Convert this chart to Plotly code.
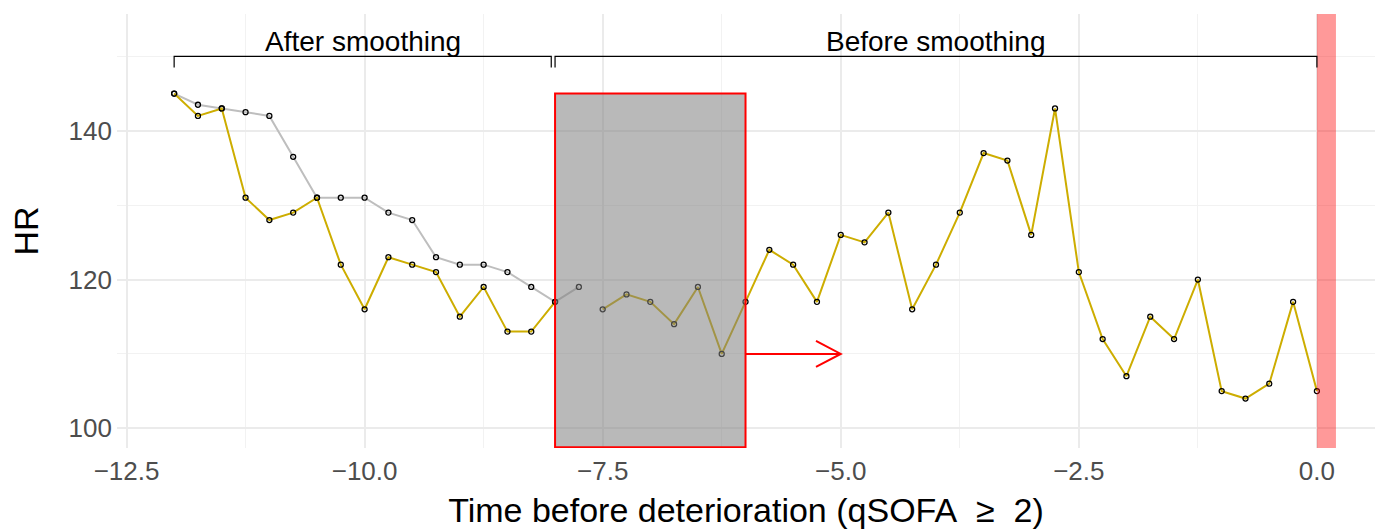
import plotly.graph_objects as go

# ---------------- data ----------------
time_raw = [-12.0, -11.75, -11.5, -11.25, -11.0, -10.75, -10.5, -10.25, -10.0, -9.75,
            -9.5, -9.25, -9.0, -8.75, -8.5, -8.25, -8.0, -7.75, -7.5, -7.25,
            -7.0, -6.75, -6.5, -6.25, -6.0, -5.75, -5.5, -5.25, -5.0, -4.75,
            -4.5, -4.25, -4.0, -3.75, -3.5, -3.25, -3.0, -2.75, -2.5, -2.25,
            -2.0, -1.75, -1.5, -1.25, -1.0, -0.75, -0.5, -0.25, 0.0]
hr_raw = [145, 142, 143, 131, 128, 129, 131, 122, 116, 123,
          122, 121, 115, 119, 113, 113, 117, None, 116, 118,
          117, 114, 119, 110, 117, 124, 122, 117, 126, 125,
          129, 116, 122, 129, 137, 136, 126, 143, 121, 112,
          107, 115, 112, 120, 105, 104, 106, 117, 105]

time_smooth = [-12.0, -11.75, -11.5, -11.25, -11.0, -10.75, -10.5, -10.25, -10.0,
               -9.75, -9.5, -9.25, -9.0, -8.75, -8.5, -8.25, -8.0, -7.75]
hr_smooth = [145, 143.5, 143, 142.5, 142, 136.5, 131, 131, 131,
             129, 128, 123, 122, 122, 121, 119, 117, 119]

x_ticks = [-12.5, -10.0, -7.5, -5.0, -2.5, 0.0]
x_ticklabels = ["\u221212.5", "\u221210.0", "\u22127.5", "\u22125.0", "\u22122.5", "0.0"]
x_minor = [-11.25, -8.75, -6.25, -3.75, -1.25]
y_ticks = [100, 120, 140]
y_minor = [110, 130, 150]

# annotation specs
window = (-8.0, -6.0, 145)          # x0, x1, top of highlighted window
arrow = (-6.0, -5.0, 110)           # x start, x end, y
event_band = (0.0, 0.2)
bracket_after = (-12.0, -8.04)
bracket_before = (-8.0, 0.0)
bracket_y, bracket_tick = 150, 148.5
label_y = 152.0

X_RANGE = [-12.6, 0.61]
Y_RANGE = [97.35, 155.7]

FONT = "Liberation Sans, Arial, sans-serif"
GOLD = "#CDAD00"
GREY_LINE = "#BEBEBE"

fig = go.Figure()

fig.add_trace(go.Scatter(
    x=time_smooth, y=hr_smooth, mode="lines+markers",
    line=dict(color=GREY_LINE, width=2),
    marker=dict(symbol="circle-open", color="black", size=5, line=dict(width=1.3)),
    showlegend=False, hoverinfo="skip"))

fig.add_trace(go.Scatter(
    x=time_raw, y=hr_raw, mode="lines+markers", connectgaps=False,
    line=dict(color=GOLD, width=2),
    marker=dict(symbol="circle-open", color="black", size=5, line=dict(width=1.3)),
    showlegend=False, hoverinfo="skip"))

shapes = []
# highlighted window
shapes.append(dict(type="rect", xref="x", x0=window[0], x1=window[1],
                   yref="y", y0=Y_RANGE[0] + 0.1, y1=window[2],
                   fillcolor="rgba(127,127,127,0.55)",
                   line=dict(color="red", width=2), layer="above"))
# event band
shapes.append(dict(type="rect", xref="x", x0=event_band[0], x1=event_band[1],
                   yref="y domain", y0=0, y1=1,
                   fillcolor="rgba(255,0,0,0.4)", line=dict(width=0), layer="above"))
# brackets
for (bx0, bx1) in (bracket_after, bracket_before):
    shapes.append(dict(type="path", xref="x", yref="y",
                       path=f"M {bx0},{bracket_tick} L {bx0},{bracket_y} L {bx1},{bracket_y} L {bx1},{bracket_tick}",
                       line=dict(color="black", width=1.2), layer="above"))
# arrow shaft + open head
ax0, ax1, ay = arrow
head_dx = 0.26
head_dy = 1.75
shapes.append(dict(type="line", xref="x", yref="y", x0=ax0, x1=ax1, y0=ay, y1=ay,
                   line=dict(color="red", width=2), layer="above"))
shapes.append(dict(type="path", xref="x", yref="y",
                   path=f"M {ax1-head_dx},{ay+head_dy} L {ax1},{ay} L {ax1-head_dx},{ay-head_dy}",
                   line=dict(color="red", width=2), layer="above"))

annotations = [
    dict(x=(bracket_after[0] + bracket_after[1]) / 2, y=label_y, xref="x", yref="y",
         text="After smoothing", showarrow=False, font=dict(family=FONT, size=28, color="black")),
    dict(x=(bracket_before[0] + bracket_before[1]) / 2, y=label_y, xref="x", yref="y",
         text="Before smoothing", showarrow=False, font=dict(family=FONT, size=28, color="black")),
]

fig.update_layout(
    width=1379, height=532,
    margin=dict(l=117, r=4, t=14, b=84),
    paper_bgcolor="white", plot_bgcolor="white",
    font=dict(family=FONT),
    shapes=shapes, annotations=annotations,
    xaxis=dict(range=X_RANGE, tickvals=x_ticks, ticktext=x_ticklabels,
               showgrid=True, gridcolor="#EBEBEB", gridwidth=2, zeroline=False,
               showline=False, ticks="", ticklabelstandoff=5,
               tickfont=dict(family=FONT, size=26, color="#4D4D4D"),
               minor=dict(tickvals=x_minor, showgrid=True, gridcolor="#F2F2F2", gridwidth=1),
               title=dict(text="Time before deterioration (qSOFA\u00a0 \u2265\u00a0 2)",
                          font=dict(family=FONT, size=34, color="black"), standoff=13)),
    yaxis=dict(range=Y_RANGE, tickvals=y_ticks,
               showgrid=True, gridcolor="#EBEBEB", gridwidth=2, zeroline=False,
               showline=False, ticks="", ticklabelstandoff=4,
               tickfont=dict(family=FONT, size=26, color="#4D4D4D"),
               minor=dict(tickvals=y_minor, showgrid=True, gridcolor="#F2F2F2", gridwidth=1),
               title=dict(text="HR", font=dict(family=FONT, size=34, color="black"), standoff=19)),
)

fig.write_html("out.html")
